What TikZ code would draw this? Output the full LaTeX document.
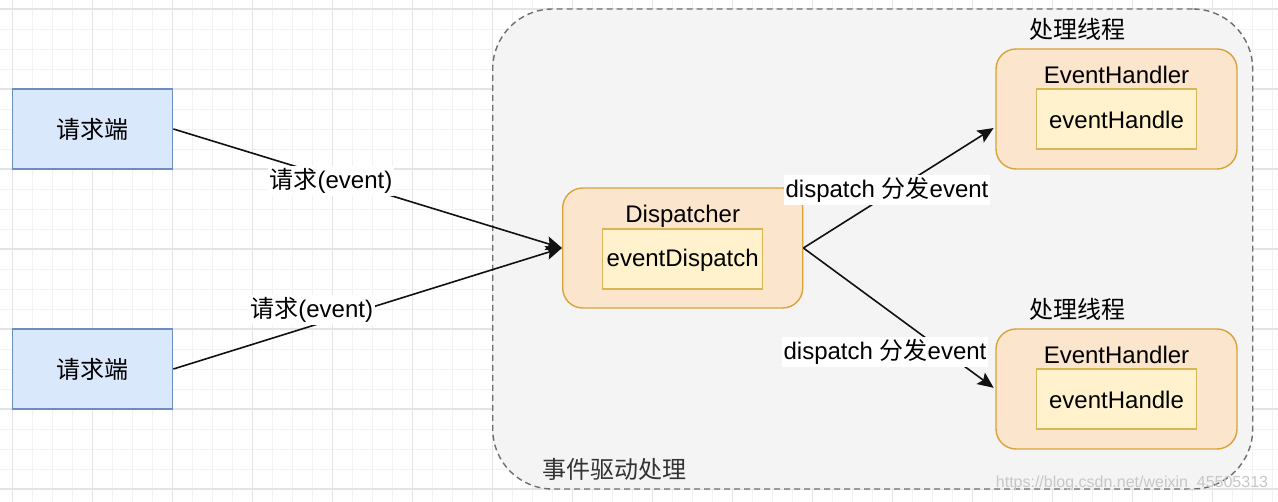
\documentclass[tikz,border=0pt]{standalone}
\usepackage{fontspec}
\setmainfont{Liberation Sans}
\newfontfamily\cjk{Noto Sans CJK SC}
\usetikzlibrary{arrows.meta}
\definecolor{bluefill}{HTML}{DAE8FC}
\definecolor{blueline}{HTML}{6C8EBF}
\definecolor{orfill}{HTML}{FCE5CD}
\definecolor{orline}{HTML}{D9A33A}
\definecolor{infill}{HTML}{FFF2CC}
\definecolor{inline}{HTML}{D6B656}
\definecolor{grpfill}{HTML}{F4F4F4}
\definecolor{grpline}{HTML}{6E6E6E}
\definecolor{gridmaj}{HTML}{E4E4E4}
\definecolor{gridmin}{HTML}{F3F3F3}
\definecolor{edgecol}{HTML}{111111}
\tikzset{
  txt/.style={font=\fontsize{24}{28}\selectfont, inner sep=0pt},
  reqbox/.style={draw=blueline, fill=bluefill, line width=1.4pt, minimum width=160pt, minimum height=80pt, inner sep=0pt},
  outerbox/.style={draw=orline, fill=orfill, line width=1.4pt, rounded corners=20pt, minimum width=240pt, minimum height=120pt, inner sep=0pt},
  innerbox/.style={draw=inline, fill=infill, line width=1.2pt, minimum width=160pt, minimum height=60pt, inner sep=0pt},
  grpbox/.style={draw=grpline, fill=grpfill, line width=1.4pt, dash pattern=on 6pt off 4pt, rounded corners=60pt, minimum width=760pt, minimum height=480pt, inner sep=0pt},
  conn/.style={draw=edgecol, line width=1.6pt, -{Stealth[length=16pt,width=14pt,inset=3pt]}},
  elabel/.style={txt, fill=white, inner sep=2pt},
  gmin/.style={draw=gridmin, line width=0.9pt},
  gmaj/.style={draw=gridmaj, line width=1.2pt}
}
\begin{document}
\begin{tikzpicture}[x=1pt,y=-1pt]
\useasboundingbox (0,0) rectangle (1278,502);
\fill[white] (0,0) rectangle (1278,502);
% grid
\foreach \i in {0,...,63} \draw[gmin] (12.7+20*\i,0) -- (12.7+20*\i,502);
\foreach \j in {0,...,24} \draw[gmin] (0,9+20*\j) -- (1278,9+20*\j);
\foreach \i in {0,...,15} \draw[gmaj] (12.7+80*\i,0) -- (12.7+80*\i,502);
\foreach \j in {0,...,6} \draw[gmaj] (0,9+80*\j) -- (1278,9+80*\j);
% group container
\node[grpbox] (grp) at (872.7,249) {};
\node[txt, font=\cjk\fontsize{24}{28}\selectfont, text=black!80] (grplab) at (614.7,469) {事件驱动处理};
% request boxes
\node[reqbox] (req1) at (92.7,129) {};
\node[txt, font=\cjk\fontsize{24}{28}\selectfont] (req1t) at (req1.center) {请求端};
\node[reqbox] (req2) at (92.7,369) {};
\node[txt, font=\cjk\fontsize{24}{28}\selectfont] (req2t) at (req2.center) {请求端};
% dispatcher
\node[outerbox] (disp) at (682.7,248) {};
\node[txt] (dispt) at (682.7,216) {Dispatcher};
\node[innerbox] (dispin) at (682.7,259) {};
\node[txt] (dispint) at (682.7,260) {eventDispatch};
% handler 1
\node[txt, font=\cjk\fontsize{24}{28}\selectfont] (th1) at (1077,29) {处理线程};
\node[outerbox, minimum width=241pt] (eh1) at (1116.5,109) {};
\node[txt] (eh1t) at (1116.5,75) {EventHandler};
\node[innerbox] (eh1in) at (1116.5,119) {};
\node[txt] (eh1int) at (1116.5,119.7) {eventHandle};
% handler 2
\node[txt, font=\cjk\fontsize{24}{28}\selectfont] (th2) at (1077,309) {处理线程};
\node[outerbox, minimum width=241pt] (eh2) at (1116.5,389) {};
\node[txt] (eh2t) at (1116.5,355) {EventHandler};
\node[innerbox] (eh2in) at (1116.5,399) {};
\node[txt] (eh2int) at (1116.5,399.7) {eventHandle};
% connectors
\draw[conn] (req1.east) -- (disp.west);
\draw[conn] (req2.east) -- (disp.west);
\draw[conn, shorten >=2pt] (disp.east) -- ([yshift=-18pt]eh1.west);
\draw[conn, shorten >=2pt] (disp.east) -- (eh2.west);
% connector labels
\node[elabel] (lab1) at (331,181) {{\cjk 请求}(event)};
\node[elabel] (lab2) at (311.7,310) {{\cjk 请求}(event)};
\node[elabel] (lab3) at (887,190) {dispatch {\cjk 分发}event};
\node[elabel] (lab4) at (885,352) {dispatch {\cjk 分发}event};
% watermark
\node[txt, font=\fontsize{16}{18}\selectfont, text=black!22] (wm) at (1132,483.5) {https://blog.csdn.net/weixin\_45505313};
\end{tikzpicture}
\end{document}
